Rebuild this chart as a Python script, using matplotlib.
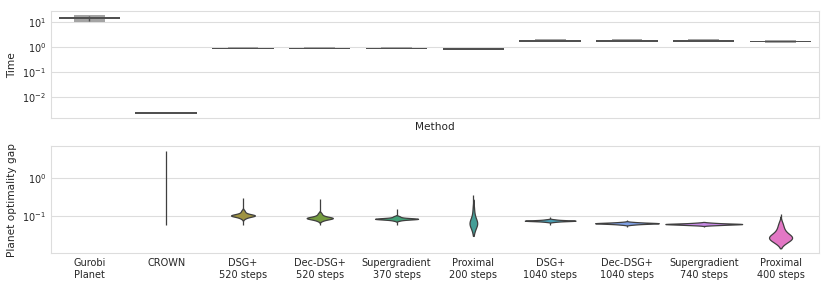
import matplotlib

matplotlib.use("Agg")
import matplotlib.pyplot as plt
import numpy as np
import seaborn as sns
from matplotlib import mlab

methods = [
    "Gurobi\nPlanet", "CROWN", "DSG+\n520 steps", "Dec-DSG+\n520 steps",
    "Supergradient\n370 steps", "Proximal\n200 steps", "DSG+\n1040 steps",
    "Dec-DSG+\n1040 steps", "Supergradient\n740 steps", "Proximal\n400 steps",
]

# runtime summary (seconds): quartiles and outer letter values
time_q1 = [14.2, 0.00224, 0.84, 0.84, 0.84, 0.80, 1.66, 1.66, 1.68, 1.57]
time_q3 = [16.5, 0.00258, 0.97, 0.97, 0.97, 0.90, 1.91, 1.91, 1.93, 1.80]
time_lo = [10.6, 0.00220, 0.82, 0.82, 0.82, 0.79, 1.64, 1.64, 1.66, 1.56]
time_hi = [19.6, 0.00268, 1.04, 1.04, 1.04, 0.95, 2.06, 2.06, 2.10, 1.92]
gurobi_whisker = [11.3, 17.9]

# planet optimality gap: full range per method (CROWN first) and bulk samples
gap_min = [0.061, 0.061, 0.060, 0.060, 0.031, 0.059, 0.053, 0.052, 0.0148]
gap_max = [4.9, 0.29, 0.28, 0.155, 0.36, 0.096, 0.080, 0.073, 0.115]
gap_dsg_520 = [0.088, 0.094, 0.098, 0.101, 0.103, 0.104, 0.105, 0.105, 0.106,
               0.107, 0.109, 0.112, 0.117, 0.126, 0.14]
gap_dec_dsg_520 = [0.077, 0.081, 0.085, 0.087, 0.088, 0.089, 0.090, 0.090, 0.091,
                   0.092, 0.094, 0.097, 0.101, 0.108, 0.12]
gap_supergrad_370 = [0.078, 0.082, 0.084, 0.085, 0.0855, 0.086, 0.086, 0.0865,
                     0.087, 0.088, 0.090, 0.094, 0.10]
gap_prox_200 = [0.038, 0.044, 0.049, 0.053, 0.056, 0.059, 0.061, 0.063, 0.065,
                0.067, 0.069, 0.072, 0.075, 0.079, 0.084, 0.091, 0.10, 0.115,
                0.14, 0.18]
gap_dsg_1040 = [0.072, 0.074, 0.0755, 0.076, 0.0765, 0.077, 0.077, 0.0775, 0.078,
                0.079, 0.0805, 0.083]
gap_dec_dsg_1040 = [0.061, 0.063, 0.064, 0.065, 0.0655, 0.066, 0.066, 0.0665,
                    0.067, 0.068, 0.069, 0.071]
gap_supergrad_740 = [0.059, 0.060, 0.061, 0.062, 0.0625, 0.063, 0.063, 0.0635,
                     0.064, 0.065, 0.066, 0.068]
gap_prox_400 = [0.0195, 0.021, 0.0225, 0.024, 0.025, 0.026, 0.027, 0.028, 0.0285,
                0.029, 0.030, 0.031, 0.033, 0.035, 0.038, 0.042, 0.048, 0.056,
                0.068]
gap_samples = [gap_dsg_520, gap_dec_dsg_520, gap_supergrad_370, gap_prox_200,
               gap_dsg_1040, gap_dec_dsg_1040, gap_supergrad_740, gap_prox_400]
violin_widths = [0.31, 0.34, 0.56, 0.10, 0.66, 0.83, 1.0, 0.30]

sns.set_style("whitegrid")
plt.rcParams["font.family"] = ["DejaVu Sans"]
plt.rcParams["axes.edgecolor"] = "#dddddd"
plt.rcParams["grid.color"] = "#dddddd"

palette = [sns.desaturate(c, 0.75) for c in sns.color_palette("husl", 10)]
dark = "#505050"
light = "#a4a4a4"
edge = "#3f3f3f"
text_color = "#262626"
x = np.arange(len(methods))

fig = plt.figure(figsize=(8.3, 2.91), dpi=100)
ax_time = fig.add_axes([0.0614, 0.5935, 0.9253, 0.3685])
ax_gap = fig.add_axes([0.0614, 0.1296, 0.9253, 0.3684])

# top: letter-value style boxes of runtime
t_lo, t_hi = np.array(time_lo), np.array(time_hi)
t_q1, t_q3 = np.array(time_q1), np.array(time_q3)
ax_time.bar(x, t_hi - t_lo, bottom=t_lo, width=0.4, color=light, linewidth=0, zorder=2)
ax_time.bar(x, t_q3 - t_q1, bottom=t_q1, width=0.8, color=dark, linewidth=0, zorder=3)
ax_time.vlines(x[0], gurobi_whisker[0], gurobi_whisker[1], color=dark, linewidth=1, zorder=4)
ax_time.set_yscale("log")
ax_time.set_ylim(0.00145, 28.3)
ax_time.set_xlim(-0.5, len(methods) - 0.5)
ax_time.set_xticks(x)
ax_time.tick_params(axis="x", labelbottom=False)
ax_time.grid(axis="x", visible=False)
ax_time.minorticks_off()
ax_time.set_ylabel("Time", fontsize=7.6, color=text_color)
ax_time.set_xlabel("Method", fontsize=7.6, color=text_color, labelpad=2.5)

# bottom: range lines, then violins (kde in log space, cut at 2 bandwidths)
ax_gap.vlines(x[1:], gap_min, gap_max, color=edge, linewidth=0.9, zorder=2)

stats = []
for samples, lo, hi in zip(gap_samples, gap_min[1:], gap_max[1:]):
    logs = np.log10(samples)
    kde = mlab.GaussianKDE(logs, "scott")
    bw = kde.factor * logs.std(ddof=1)
    coords = np.linspace(max(logs.min() - 2 * bw, np.log10(lo)),
                         min(logs.max() + 2 * bw, np.log10(hi)), 300)
    stats.append({
        "coords": 10 ** coords,
        "vals": kde.evaluate(coords),
        "mean": 10 ** logs.mean(),
        "median": 10 ** np.median(logs),
        "min": 10 ** coords[0],
        "max": 10 ** coords[-1],
    })

parts = ax_gap.violin(stats, positions=x[2:], widths=violin_widths,
                      showmeans=False, showextrema=False, showmedians=False)
for body, color in zip(parts["bodies"], palette[2:]):
    body.set_facecolor(color)
    body.set_edgecolor(edge)
    body.set_linewidth(0.9)
    body.set_alpha(1)
    body.set_zorder(3)

ax_gap.set_yscale("log")
ax_gap.set_ylim(0.011, 6.6)
ax_gap.set_xlim(-0.5, len(methods) - 0.5)
ax_gap.set_xticks(x)
ax_gap.set_xticklabels(methods, multialignment="center")
ax_gap.grid(axis="x", visible=False)
ax_gap.minorticks_off()
ax_gap.set_ylabel("Planet optimality gap", fontsize=7.6, color=text_color)

for ax in (ax_time, ax_gap):
    ax.tick_params(axis="both", labelsize=7, labelcolor=text_color, length=0)

fig.savefig("out.png", dpi=100)
